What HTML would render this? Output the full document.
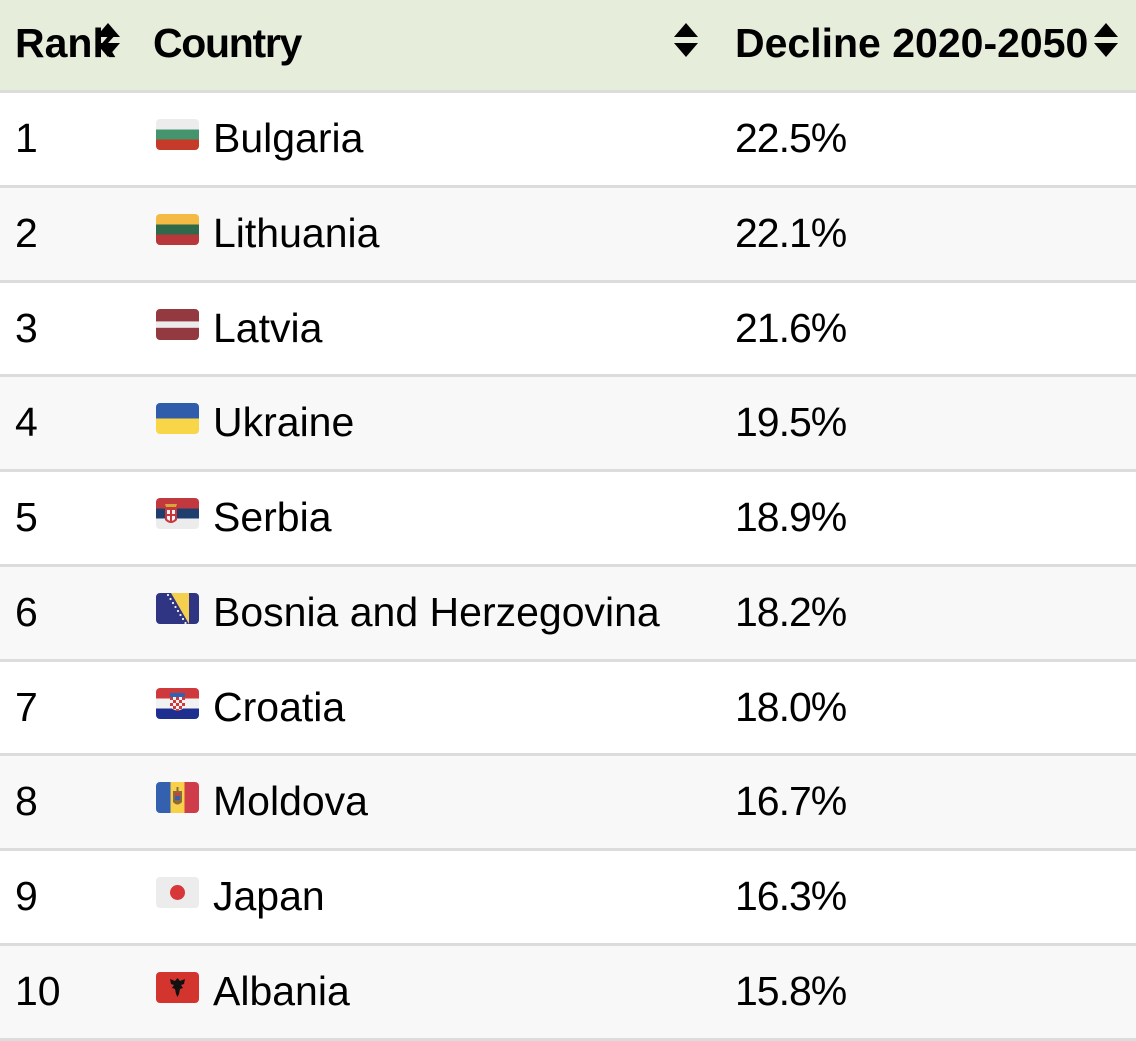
<!DOCTYPE html>
<html>
<head>
<meta charset="utf-8">
<style>
html,body{margin:0;padding:0;}
body{width:1136px;height:1034px;overflow:hidden;background:#fff;font-family:"Liberation Sans",Arial,sans-serif;color:#000;position:relative;}
.hdr{position:absolute;left:0;top:0;width:1136px;height:90px;background:#e6eddb;}
.hb{position:absolute;left:0;top:90px;width:1136px;height:3px;background:#dcdcdc;}
.ht{position:absolute;top:0;height:86px;line-height:86px;font-size:41px;font-weight:bold;color:#000;white-space:nowrap;}
.row{position:absolute;left:0;width:1136px;height:91.78px;border-bottom:3px solid #dcdcdc;}
.row.alt{background:#f8f8f8;}
.row.w{background:#fff;}
.t{position:absolute;top:0;height:91.78px;line-height:91.78px;font-size:41px;color:#000;white-space:nowrap;}
.v{letter-spacing:-1px;}
.flag{position:absolute;left:156px;top:26px;width:43px;height:31px;border-radius:4px;overflow:hidden;}
.flag svg{display:block;}
.arr{position:absolute;}
</style>
</head>
<body>
<div class="hdr"></div>
<div class="hb"></div>
<div class="ht" style="left:15px;">Rank</div>
<svg class="arr" style="left:95px;top:22px;" width="26" height="36" viewBox="0 0 26 36"><polygon points="13,1 25,15 1,15" fill="#000"/><polygon points="13,35 25,21 1,21" fill="#000"/></svg>
<div class="ht" style="left:153px;letter-spacing:-1.3px;">Country</div>
<svg class="arr" style="left:673px;top:22px;" width="26" height="36" viewBox="0 0 26 36"><polygon points="13,1 25,15 1,15" fill="#000"/><polygon points="13,35 25,21 1,21" fill="#000"/></svg>
<div class="ht" style="left:735px;">Decline 2020-2050</div>
<svg class="arr" style="left:1093px;top:22px;" width="26" height="36" viewBox="0 0 26 36"><polygon points="13,1 25,15 1,15" fill="#000"/><polygon points="13,35 25,21 1,21" fill="#000"/></svg>

<div class="row w" style="top:93px;">
<div class="t" style="left:15px;">1</div>
<div class="flag"><svg width="43" height="31"><rect width="43" height="11" fill="#ececec"/><rect y="10.5" width="43" height="10.5" fill="#44956d"/><rect y="20.5" width="43" height="10.5" fill="#c63a29"/></svg></div>
<div class="t" style="left:213px;">Bulgaria</div>
<div class="t v" style="left:735px;">22.5%</div>
</div>

<div class="row alt" style="top:187.78px;">
<div class="t" style="left:15px;">2</div>
<div class="flag"><svg width="43" height="31"><rect width="43" height="11" fill="#f3bb43"/><rect y="10.5" width="43" height="10.5" fill="#2d694a"/><rect y="20.5" width="43" height="10.5" fill="#b8373a"/></svg></div>
<div class="t" style="left:213px;">Lithuania</div>
<div class="t v" style="left:735px;">22.1%</div>
</div>

<div class="row w" style="top:282.56px;">
<div class="t" style="left:15px;">3</div>
<div class="flag"><svg width="43" height="31"><rect width="43" height="31" fill="#923a40"/><rect y="12.4" width="43" height="6.4" fill="#ececec"/></svg></div>
<div class="t" style="left:213px;">Latvia</div>
<div class="t v" style="left:735px;">21.6%</div>
</div>

<div class="row alt" style="top:377.34px;">
<div class="t" style="left:15px;">4</div>
<div class="flag"><svg width="43" height="31"><rect width="43" height="16" fill="#2f5dac"/><rect y="15.5" width="43" height="15.5" fill="#f9d648"/></svg></div>
<div class="t" style="left:213px;">Ukraine</div>
<div class="t v" style="left:735px;">19.5%</div>
</div>

<div class="row w" style="top:472.12px;">
<div class="t" style="left:15px;">5</div>
<div class="flag"><svg width="43" height="31"><rect width="43" height="11" fill="#c1393f"/><rect y="10.5" width="43" height="10.5" fill="#1f3e6e"/><rect y="20.5" width="43" height="10.5" fill="#ececec"/>
<path d="M9,6 L21,6 L20,9 L10,9 Z" fill="#d8a638"/><path d="M9,10 L21,10 L21,22 Q15,28 9,22 Z" fill="#c8373c"/><path d="M11,12 L19,12 L19,21 Q15,25 11,21 Z" fill="#f2f2f2"/><rect x="14" y="12" width="2" height="11" fill="#c8373c"/><rect x="11" y="16" width="8" height="2" fill="#c8373c"/></svg></div>
<div class="t" style="left:213px;">Serbia</div>
<div class="t v" style="left:735px;">18.9%</div>
</div>

<div class="row alt" style="top:566.9px;">
<div class="t" style="left:15px;">6</div>
<div class="flag"><svg width="43" height="31"><rect width="43" height="31" fill="#2f3483"/><polygon points="15,0 33,0 33,31" fill="#f4d04e"/>
<g fill="#f2f2f2"><circle cx="12" cy="2" r="1.1"/><circle cx="14.5" cy="6" r="1.1"/><circle cx="17" cy="10" r="1.1"/><circle cx="19.5" cy="14" r="1.1"/><circle cx="22" cy="18" r="1.1"/><circle cx="24.5" cy="22" r="1.1"/><circle cx="27" cy="26" r="1.1"/><circle cx="29.5" cy="30" r="1.1"/></g></svg></div>
<div class="t" style="left:213px;">Bosnia and Herzegovina</div>
<div class="t v" style="left:735px;">18.2%</div>
</div>

<div class="row w" style="top:661.68px;">
<div class="t" style="left:15px;">7</div>
<div class="flag"><svg width="43" height="31"><rect width="43" height="11" fill="#d0393b"/><rect y="10.5" width="43" height="10.5" fill="#f2f2f2"/><rect y="20.5" width="43" height="10.5" fill="#1f2f8f"/>
<rect x="14" y="5" width="15" height="4" fill="#2a66b8"/><path d="M14,9 L29,9 L29,19 Q21.5,26 14,19 Z" fill="#f2f2f2"/>
<g fill="#d0393b"><rect x="14" y="9" width="3" height="3"/><rect x="20" y="9" width="3" height="3"/><rect x="26" y="9" width="3" height="3"/><rect x="17" y="12" width="3" height="3"/><rect x="23" y="12" width="3" height="3"/><rect x="14" y="15" width="3" height="3"/><rect x="20" y="15" width="3" height="3"/><rect x="26" y="15" width="3" height="3"/><rect x="17" y="18" width="3" height="3"/><rect x="23" y="18" width="3" height="3"/><rect x="20" y="21" width="3" height="2"/></g></svg></div>
<div class="t" style="left:213px;">Croatia</div>
<div class="t v" style="left:735px;">18.0%</div>
</div>

<div class="row alt" style="top:756.46px;">
<div class="t" style="left:15px;">8</div>
<div class="flag"><svg width="43" height="31"><rect width="15" height="31" fill="#3460b0"/><rect x="14.5" width="14.5" height="31" fill="#f9d04a"/><rect x="28.5" width="14.5" height="31" fill="#cf3d4a"/>
<path d="M17,9 L26,9 L26,20 Q21.5,25 17,20 Z" fill="#8a6a3a"/><rect x="19" y="11" width="5" height="7" fill="#c8403f"/><rect x="19" y="14" width="5" height="4" fill="#3a5fa8"/><rect x="20.5" y="5" width="2" height="4" fill="#8a6a3a"/></svg></div>
<div class="t" style="left:213px;">Moldova</div>
<div class="t v" style="left:735px;">16.7%</div>
</div>

<div class="row w" style="top:851.24px;">
<div class="t" style="left:15px;">9</div>
<div class="flag"><svg width="43" height="31"><rect width="43" height="31" fill="#ececec"/><circle cx="21.5" cy="15.5" r="7.5" fill="#d8373a"/></svg></div>
<div class="t" style="left:213px;">Japan</div>
<div class="t v" style="left:735px;">16.3%</div>
</div>

<div class="row alt" style="top:946.02px;">
<div class="t" style="left:15px;">10</div>
<div class="flag"><svg width="43" height="31"><rect width="43" height="31" fill="#d3352e"/>
<path d="M21.5,6 L24,9 L29,7 L28,12 L25,13 L27,16 L24,17 L23,22 L21.5,25 L20,22 L19,17 L16,16 L18,13 L15,12 L14,7 L19,9 Z" fill="#111"/></svg></div>
<div class="t" style="left:213px;">Albania</div>
<div class="t v" style="left:735px;">15.8%</div>
</div>
</body>
</html>
